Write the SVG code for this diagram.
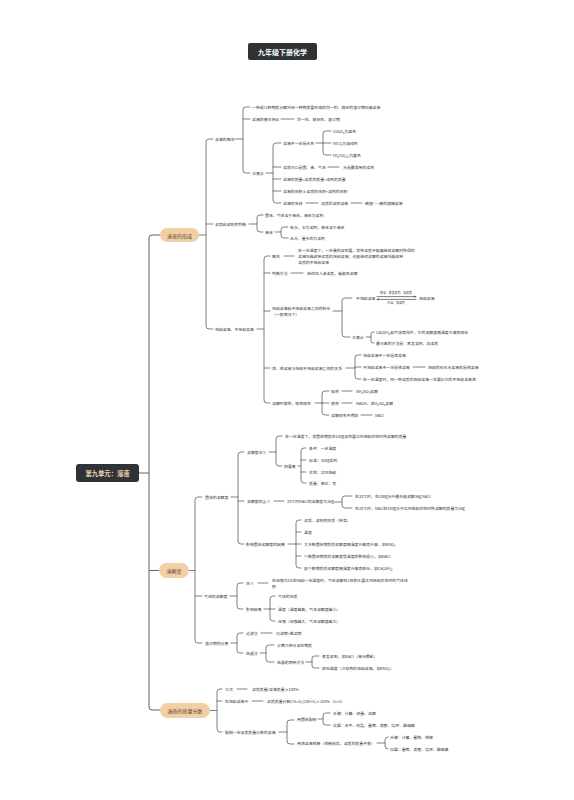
<svg xmlns="http://www.w3.org/2000/svg" width="574" height="800" viewBox="0 0 574 800">
<defs>
<marker id="ah" viewBox="0 0 6 6" refX="5.5" refY="3" markerWidth="3" markerHeight="3" orient="auto"><path d="M0,0L6,3L0,6z" fill="#555"/></marker>
</defs>
<style>
text{font-family:"Noto Sans CJK SC","Noto Sans",sans-serif;dominant-baseline:central}
.t{font-size:3.9px;fill:#333}
.s{font-size:2.9px;fill:#333;text-anchor:middle}
.c{fill:none;stroke:#606060;stroke-width:0.8;stroke-linecap:round}
.c0{fill:none;stroke:#606060;stroke-width:1}
.n1 rect{fill:#f2cfa5}
.n1 text{font-size:5px;fill:#5a4330;text-anchor:middle}
</style>
<rect width="574" height="800" fill="#ffffff"/>

<g id="title"><rect x="248" y="43" width="69" height="17" rx="2" fill="#2f3338"/><text x="282.5" y="51.5" font-size="7px" font-weight="bold" fill="#ffffff" text-anchor="middle">九年级下册化学</text></g>

<g id="connectors">
<path class="c0" d="M139,473H149M160,235H152Q149,235 149,238V707Q149,710 152,710H160M149,570.5H159"/>
<path class="c" d="M199,235H206M213,139H209Q206,139 206,142V326Q206,329 209,329H213M206,224H213"/>
<path class="c" d="M235,139H243M250,107H246Q243,107 243,110V170Q243,173 246,173H250M243,119H250M281,119H294"/>
<path class="c" d="M266,173H273M281,143H276Q273,143 273,146V200Q273,203 276,203H281M273,167H281M273,179H281M273,191H281"/>
<path class="c" d="M316,143H323M331,131H326Q323,131 323,134V152Q323,155 326,155H331M323,143H331M328,167H339M306,203H318M351,203H362"/>
<path class="c" d="M249,224H257M263,215H260Q257,215 257,218V229Q257,232 260,232H263M275,232H281M288,227H284Q281,227 281,230V235Q281,238 284,238H288"/>
<path class="c" d="M257,329H264M270,256H267Q264,256 264,259V400Q264,403 267,403H270M264,273H270M264,311H270M264,368H270"/>
<path class="c" d="M284,256H294M291,273H303M333,311H342M352,298H345Q342,298 342,301V334Q342,337 345,337H350"/>
<path class="c" d="M377,296.6H416" marker-end="url(#ah)"/>
<path class="c" d="M416,299.4H377" marker-end="url(#ah)"/>
<path class="c" d="M366,337H371M374,332H373Q371,332 371,334V341Q371,343 373,343H374"/>
<path class="c" d="M346,368H355M361,355H358Q355,355 355,358V376Q355,379 358,379H361M355,367H361M413,367H425"/>
<path class="c" d="M315,403H322M329,391H325Q322,391 322,394V412Q322,415 325,415H329M322,403H329M342,391H352M342,403H352M361,415H372"/>
<path class="c" d="M189,570.5H195M202,497H198Q195,497 195,500V640Q195,643 198,643H202M195,596H202"/>
<path class="c" d="M231,497H238M244,452H241Q238,452 238,455V541Q238,544 241,544H244M238,501H244"/>
<path class="c" d="M269,452H276M282,436H279Q276,436 276,439V463Q276,466 279,466H282M298,466H301M306,448H304Q301,448 301,451V480Q301,483 304,483H306M301,460H306M301,472H306"/>
<path class="c" d="M274,501H284M334,502H342M352,496H345Q342,496 342,499V505Q342,508 345,508H352"/>
<path class="c" d="M288,544H296M301,520H299Q296,520 296,523V565Q296,568 299,568H301M296,532H301M296,544H301M296,556H301"/>
<path class="c" d="M230,596H237M243,583H240Q237,583 237,586V606Q237,609 240,609H243M258,583H268M264,609H270M275,596H273Q270,596 270,599V618Q270,621 273,621H275M270,609H275"/>
<path class="c" d="M231,643H237M243,633H240Q237,633 237,636V650Q237,653 240,653H243M261,633H272M260,653H266M274,645H269Q266,645 266,648V659Q266,662 269,662H274M306,662H312M319,656H314.5Q312,656 312,658.5V665.5Q312,668 314.5,668H319"/>
<path class="c" d="M210,710.5H217M222,689H220Q217,689 217,692V729Q217,732 220,732H222M217,701H222M237,689H247M252,701H263"/>
<path class="c" d="M279,732H287M294,720H290Q287,720 287,723V741Q287,744 290,744H294M318,719H323M330,713H326Q323,713 323,716V722Q323,725 326,725H330M377,743H385M388,737Q385,737 385,740V746Q385,749 388,749"/>
</g>

<g id="root"><rect x="76" y="464" width="63" height="18" rx="3" fill="#2f3338"/><text x="107.5" y="473" font-size="6.3px" font-weight="bold" fill="#f3d3aa" text-anchor="middle">第九单元：溶液</text></g>

<g id="b1" class="n1"><rect x="160" y="228" width="39" height="14" rx="7"/><text x="179.5" y="235">溶液的形成</text></g>
<g id="b2" class="n1"><rect x="159" y="563" width="30" height="15" rx="7.5"/><text x="174" y="570.5">溶解度</text></g>
<g id="b3" class="n1"><rect x="160" y="703" width="50" height="15" rx="7.5"/><text x="185" y="710.5">溶质的质量分数</text></g>

<g id="b1-concept"><text class="t" x="215" y="139">溶液的概念</text></g>
<g id="b1-c1"><text class="t" x="252" y="107">一种或几种物质分散到另一种物质里形成的均一的、稳定的混合物叫做溶液</text></g>
<g id="b1-c2"><text class="t" x="252" y="119">溶液的基本特征</text><text class="t" x="297" y="119">均一性、稳定性、混合物</text></g>
<g id="b1-c3"><text class="t" x="252" y="173">注意点</text></g>
<g id="b1-n1"><text class="t" x="283" y="143">溶液不一定是无色</text></g>
<g id="b1-n1a"><text class="t" x="333" y="131">CuSO₄为蓝色</text></g>
<g id="b1-n1b"><text class="t" x="333" y="143">FeCl₂为浅绿色</text></g>
<g id="b1-n1c"><text class="t" x="333" y="155">Fe₂(SO₄)₃为黄色</text></g>
<g id="b1-n2"><text class="t" x="283" y="167">溶质可以是固、液、气体</text><text class="t" x="343" y="167">水是最常用的溶剂</text></g>
<g id="b1-n3"><text class="t" x="283" y="179">溶液的质量=溶质的质量+溶剂的质量</text></g>
<g id="b1-n4"><text class="t" x="283" y="191">溶液的体积≠溶质的体积+溶剂的体积</text></g>
<g id="b1-n5"><text class="t" x="283" y="203">溶液的名称</text><text class="t" x="321" y="203">溶质的溶剂溶液</text><text class="t" x="365" y="203">碘酒——碘的酒精溶液</text></g>

<g id="b1-judge"><text class="t" x="215" y="224">溶质和溶剂的判断</text></g>
<g id="b1-j1"><text class="t" x="265" y="215">固体、气体溶于液体，液体为溶剂</text></g>
<g id="b1-j2"><text class="t" x="265" y="232">液体</text></g>
<g id="b1-j2a"><text class="t" x="290" y="227">有水，水为溶剂，液体溶于液体</text></g>
<g id="b1-j2b"><text class="t" x="290" y="238">无水，量多的为溶剂</text></g>

<g id="b1-sat"><text class="t" x="215" y="329">饱和溶液、不饱和溶液</text></g>
<g id="b1-s1"><text class="t" x="272" y="256">概念</text><text class="t" x="298" y="250">在一定温度下，一定量的溶剂里，某种溶质不能再继续溶解时所得的</text><text class="t" x="298" y="256">溶液叫做这种溶质的饱和溶液；还能继续溶解的溶液叫做这种</text><text class="t" x="298" y="262">溶质的不饱和溶液</text></g>
<g id="b1-s2"><text class="t" x="272" y="273">判断方法</text><text class="t" x="307" y="273">继续加入该溶质，看能否溶解</text></g>
<g id="b1-s3"><text class="t" x="272" y="308">饱和溶液和不饱和溶液之间的转化</text><text class="t" x="272" y="314">（一般情况下）</text></g>
<g id="b1-s3a"><text class="t" x="356" y="298">不饱和溶液</text><text class="s" x="396" y="293">降温、蒸发溶剂、加溶质</text><text class="s" x="396" y="303">升温、加溶剂</text><text class="t" x="419" y="298">饱和溶液</text></g>
<g id="b1-s3b"><text class="t" x="352" y="337">注意点</text></g>
<g id="b1-s3b1"><text class="t" x="376" y="332">Ca(OH)₂和气体等除外，它的溶解度随温度升高而降低</text></g>
<g id="b1-s3b2"><text class="t" x="376" y="343">最可靠的方法是：蒸发溶剂、加溶质</text></g>
<g id="b1-s4"><text class="t" x="272" y="368">浓、稀溶液与饱和不饱和溶液之间的关系</text></g>
<g id="b1-s4a"><text class="t" x="363" y="355">饱和溶液不一定是浓溶液</text></g>
<g id="b1-s4b"><text class="t" x="363" y="367">不饱和溶液不一定是稀溶液</text><text class="t" x="428" y="367">饱和的石灰水溶液就是稀溶液</text></g>
<g id="b1-s4c"><text class="t" x="363" y="379">在一定温度时，同一种溶质的饱和溶液一定要比它的不饱和溶液浓</text></g>
<g id="b1-s5"><text class="t" x="272" y="403">溶解时放热、吸热现象</text></g>
<g id="b1-s5a"><text class="t" x="331" y="391">吸热</text><text class="t" x="356" y="391">NH₄NO₃溶解</text></g>
<g id="b1-s5b"><text class="t" x="331" y="403">放热</text><text class="t" x="356" y="403">NaOH、浓H₂SO₄溶解</text></g>
<g id="b1-s5c"><text class="t" x="331" y="415">溶解现象不明显</text><text class="t" x="375" y="415">NaCl</text></g>

<g id="b2-solid"><text class="t" x="205" y="497">固体的溶解度</text></g>
<g id="b2-d"><text class="t" x="247" y="452">溶解度定义</text></g>
<g id="b2-d1"><text class="t" x="285" y="436">在一定温度下，某固态物质在100g溶剂里达到饱和状态时所溶解的质量</text></g>
<g id="b2-d2"><text class="t" x="284" y="466">四要素</text></g>
<g id="b2-d2a"><text class="t" x="309" y="448">条件：一定温度</text></g>
<g id="b2-d2b"><text class="t" x="309" y="460">标准：100g溶剂</text></g>
<g id="b2-d2c"><text class="t" x="309" y="472">状态：达到饱和</text></g>
<g id="b2-d2d"><text class="t" x="309" y="483">质量：单位：克</text></g>
<g id="b2-m"><text class="t" x="247" y="501">溶解度的含义</text><text class="t" x="287" y="501">20℃时NaCl的溶解度为36g</text></g>
<g id="b2-m1"><text class="t" x="355" y="496">在20℃时，在100g水中最多能溶解36g NaCl</text></g>
<g id="b2-m2"><text class="t" x="355" y="508">在20℃时，NaCl在100g水中达到饱和状态时所溶解的质量为36g</text></g>
<g id="b2-f"><text class="t" x="246" y="544">影响固体溶解度的因素</text></g>
<g id="b2-f1"><text class="t" x="304" y="520">溶质、溶剂的性质（种类）</text></g>
<g id="b2-f2"><text class="t" x="304" y="532">温度</text></g>
<g id="b2-f3"><text class="t" x="304" y="544">大多数固体物质的溶解度随温度升高而升高，如KNO₃</text></g>
<g id="b2-f4"><text class="t" x="304" y="556">少数固体物质的溶解度受温度的影响很小，如NaCl</text></g>
<g id="b2-f5"><text class="t" x="304" y="568">极少数物质的溶解度随温度升高而降低，如Ca(OH)₂</text></g>
<g id="b2-gas"><text class="t" x="204" y="596">气体的溶解度</text></g>
<g id="b2-g1"><text class="t" x="246" y="583">定义</text><text class="t" x="272" y="579.5">在压强为101kPa和一定温度时，气体溶解在1体积水里达到饱和状态时的气体体</text><text class="t" x="272" y="586">积</text></g>
<g id="b2-g2"><text class="t" x="246" y="609">影响因素</text></g>
<g id="b2-g2a"><text class="t" x="278" y="596">气体的性质</text></g>
<g id="b2-g2b"><text class="t" x="278" y="609">温度（温度越高，气体溶解度越小）</text></g>
<g id="b2-g2c"><text class="t" x="278" y="621">压强（压强越大，气体溶解度越大）</text></g>
<g id="b2-sep"><text class="t" x="205" y="643">混合物的分离</text></g>
<g id="b2-sep1"><text class="t" x="246" y="633">过滤法</text><text class="t" x="276" y="633">可溶物+难溶物</text></g>
<g id="b2-sep2"><text class="t" x="246" y="653">结晶法</text></g>
<g id="b2-sep2a"><text class="t" x="277" y="645">分离几种可溶性物质</text></g>
<g id="b2-sep2b"><text class="t" x="277" y="662">结晶的两种方法</text></g>
<g id="b2-sep2b1"><text class="t" x="322" y="656">蒸发溶剂，如NaCl（海水晒盐）</text></g>
<g id="b2-sep2b2"><text class="t" x="322" y="668">降低温度（冷却热的饱和溶液，如KNO₃）</text></g>

<g id="b3-f"><text class="t" x="225" y="689">公式</text><text class="t" x="252" y="689">溶质质量/溶液质量×100%</text></g>
<g id="b3-s"><text class="t" x="225" y="701">在饱和溶液中</text><text class="t" x="267" y="701">溶质质量分数C%=S/(100+S)×100%（C&lt;S）</text></g>
<g id="b3-p"><text class="t" x="225" y="732">配制一定溶质质量分数的溶液</text></g>
<g id="b3-p1"><text class="t" x="297" y="719">用固体配制</text></g>
<g id="b3-p1a"><text class="t" x="333" y="713">步骤：计算、称量、溶解</text></g>
<g id="b3-p1b"><text class="t" x="333" y="725">仪器：天平、药匙、量筒、滴管、烧杯、玻璃棒</text></g>
<g id="b3-p2"><text class="t" x="297" y="743">用浓溶液稀释（稀释前后，溶质的质量不变）</text></g>
<g id="b3-p2a"><text class="t" x="390" y="737">步骤：计算、量取、稀释</text></g>
<g id="b3-p2b"><text class="t" x="390" y="749">仪器：量筒、滴管、烧杯、玻璃棒</text></g>
</svg>
